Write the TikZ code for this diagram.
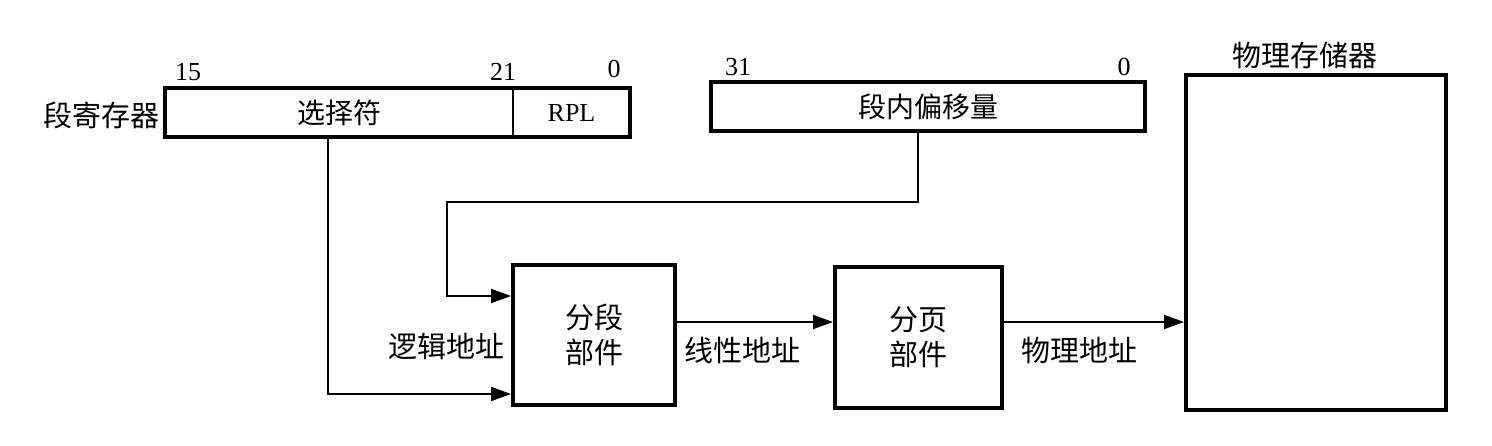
\documentclass[tikz,border=0pt]{standalone}
\usepackage{fontspec}
\setmainfont{Liberation Serif}
\newfontfamily\cjk{Noto Sans CJK SC}
\usetikzlibrary{arrows.meta,calc}
\tikzset{
  lbl/.style={font=\fontsize{29}{32}\selectfont\cjk, inner sep=0pt},
  num/.style={font=\fontsize{26}{30}\selectfont, inner sep=0pt},
  field/.style={inner sep=0pt, font=\fontsize{28}{30}\selectfont\cjk},
  unit/.style={draw, line width=4pt, inner sep=0pt, align=center,
    font=\fontsize{29}{35}\selectfont\cjk},
  conn/.style={line width=2pt},
  arr/.style={line width=2pt, -{Triangle[length=20pt,width=14pt]}}
}
\begin{document}
\begin{tikzpicture}[x=1pt,y=-1pt]
\useasboundingbox (0,0) rectangle (1492,446);
% segment register
\node[field, minimum width=348pt, minimum height=49pt] (sel) at (339,112.5) {选择符};
\node[field, minimum width=117pt, minimum height=49pt, font=\fontsize{26}{30}\selectfont] (rpl) at (571.5,112.5) {RPL};
\draw[line width=4pt] (sel.north west) rectangle (rpl.south east);
\draw[line width=2pt] (rpl.north west) -- (rpl.south west);
\node[lbl, anchor=east] (segreg) at (160,115) {段寄存器};
\node[num] (n15) at (188,72) {15};
\node[num] (n21) at (503,72) {21};
\node[num] (n0a) at (614,69) {0};
% offset
\node[field, draw, line width=4pt, minimum width=434pt, minimum height=49pt] (off) at (928,106.5) {段内偏移量};
\node[num] (n31) at (738,67) {31};
\node[num] (n0b) at (1124,67) {0};
% physical memory
\node[draw, line width=4pt, minimum width=260pt, minimum height=335pt, inner sep=0pt] (mem) at (1316,242.5) {};
\node[lbl] (memlbl) at (1305,55) {物理存储器};
% units
\node[unit, minimum width=162pt, minimum height=140pt] (seg) at (594,335) {分段\\部件};
\node[unit, minimum width=167pt, minimum height=141pt] (pag) at (918.5,337.5) {分页\\部件};
% connectors
\coordinate (bendA) at (447,202);
\draw[arr] ([xshift=-11pt]sel.south) |- ([yshift=13pt]seg.south west);
\draw[arr] ([xshift=-10pt]off.south) |- (bendA) |- ([yshift=-33pt]seg.north west);
\draw[arr] (seg.east |- 0,322) -- (pag.west |- 0,322);
\draw[arr] (pag.east |- 0,322) -- (mem.west |- 0,322);
% labels
\node[lbl, anchor=east] (la) at (505,346) {逻辑地址};
\node[lbl] (lb) at (742,350) {线性地址};
\node[lbl] (lc) at (1079,350) {物理地址};
\end{tikzpicture}
\end{document}
